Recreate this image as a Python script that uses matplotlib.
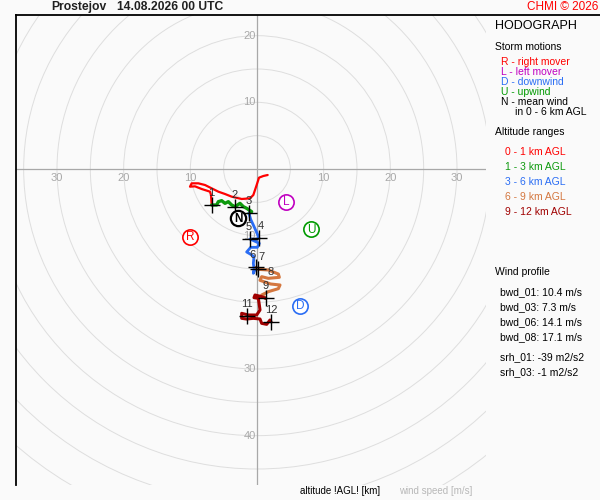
import matplotlib
matplotlib.use('Agg')
import matplotlib.pyplot as plt
from matplotlib.patches import Circle
from matplotlib.lines import Line2D

plt.rcParams['font.family'] = ['Liberation Sans', 'DejaVu Sans']

# ---------------- data ----------------
station = "Prostejov"
timestamp = "14.08.2026 00 UTC"

ring_radii = [5, 10, 15, 20, 25, 30, 35, 40, 45, 50, 55, 60]
x_tick_vals = [-30, -20, -10, 10, 20, 30]
y_tick_vals = [20, 10, -10, -30, -40]

# hodograph segments (u, v in m/s)
u_0_1 = [1.6, 0.95, 0.3, -0.05, -0.55, -1.05, -2.3, -3.8, -4.8, -5.8, -6.8, -7.8, -8.8, -9.8,
         -10.05, -9.3, -8.3, -7.05, -6.9, -6.8]
v_0_1 = [-0.9, -1.05, -1.3, -2.4, -3.9, -4.4, -4.5, -4.15, -3.75, -3.4, -2.9, -2.4, -2.15, -2.15,
         -2.65, -2.6, -3.0, -3.4, -3.9, -5.4]
u_1_3 = [-6.8, -6.05, -5.8, -5.3, -4.8, -4.3, -3.8, -3.3, -2.55, -2.05, -1.55, -0.8, -1.2]
v_1_3 = [-5.4, -5.4, -4.9, -4.75, -5.15, -4.9, -5.4, -5.65, -5.15, -5.65, -5.9, -6.4, -6.65]
u_3_6 = [-1.2, -0.95, -0.55, 0.05, 0.3, -0.3, -1.05, 0.35, 0.05, -0.95, -1.55, -0.95, -0.45,
         -0.55, -0.45, -0.55, -0.15]
v_3_6 = [-6.65, -7.55, -8.4, -9.75, -10.4, -10.55, -10.5, -11.15, -11.75, -11.75, -12.45, -12.8,
         -13.15, -14.15, -14.9, -15.65, -14.75]
u_6_9 = [-0.15, 0.2, 1.7, 3.2, 3.35, 1.7, 0.7, 0.45, 2.05, 3.45, 3.2, 1.7, 0.7, 1.3]
v_6_9 = [-14.75, -15.05, -15.15, -15.75, -16.25, -16.4, -16.15, -16.7, -17.25, -17.4, -17.95,
         -18.4, -18.9, -19.4]
u_9_12 = [1.3, 0.7, -0.3, -0.45, 0.2, 0.35, 0.45, -0.05, -1.3, -2.3, -2.3, -1.55, -0.55, 0.45,
          0.7, 1.45, 1.95, 2.1]
v_9_12 = [-19.4, -19.15, -18.9, -19.3, -19.4, -20.4, -21.15, -21.9, -21.9, -21.65, -22.4, -22.5,
          -22.4, -22.5, -23.15, -23.3, -22.65, -22.9]

# km markers
km_labels = ["1", "2", "3", "4", "5", "6", "7", "8", "9", "11", "12"]
km_u = [-6.8, -3.3, -1.2, 0.3, -1.05, -0.15, 0.2, 2.05, 1.3, -1.55, 2.1]
km_v = [-5.4, -5.65, -6.65, -10.4, -10.5, -14.75, -15.05, -17.25, -19.4, -22.0, -22.9]
km_cross = [True, True, True, True, True, True, True, False, True, True, True]

# storm motions
storm_letters = ["R", "L", "U", "D", "N"]
storm_u = [-10.05, 4.35, 8.1, 6.45, -2.8]
storm_v = [-10.15, -4.9, -9.0, -20.5, -7.4]
storm_colors = ["#ff0000", "#c000c0", "#009a00", "#2a6df4", "#000000"]

seg_colors = ["#ff0000", "#0e9a0e", "#2a6df4", "#d4773f", "#a00000"]
seg_names = ["0 - 1 km AGL", "1 - 3 km AGL", "3 - 6 km AGL", "6 - 9 km AGL", "9 - 12 km AGL"]

profile_lines = ["bwd_01: 10.4 m/s", "bwd_03: 7.3 m/s", "bwd_06: 14.1 m/s", "bwd_08: 17.1 m/s"]
srh_lines = ["srh_01: -39 m2/s2", "srh_03: -1 m2/s2"]

# ---------------- figure ----------------
BG = '#fafafa'
fig = plt.figure(figsize=(6, 5), dpi=100, facecolor=BG)
ax = fig.add_axes([16 / 600, 15 / 500, 470 / 600, 470 / 500])
ax.set_xlim(-36.15, 34.35)
ax.set_ylim(-47.4, 23.1)
ax.set_facecolor(BG)
for s in ax.spines.values():
    s.set_visible(False)
ax.set_xticks([])
ax.set_yticks([])

for r in ring_radii:
    ax.add_patch(Circle((0, 0), r, fill=False, ec='#dedede', lw=0.7, zorder=1))
ax.axhline(0, color='#a8a8a8', lw=0.9, zorder=2)
ax.axvline(0, color='#a8a8a8', lw=0.9, zorder=2)

for val in x_tick_vals:
    ax.annotate(str(abs(val)), (val, 0), xytext=(0, -3), textcoords='offset points',
                ha='center', va='top', color='#a8a8a8', fontsize=8, zorder=3)
for val in y_tick_vals:
    ax.annotate(str(abs(val)), (0, val), xytext=(-1, 0), textcoords='offset points',
                ha='right', va='center', color='#a8a8a8', fontsize=8, zorder=3)

segs = [(u_0_1, v_0_1, 1.6), (u_1_3, v_1_3, 2.4), (u_3_6, v_3_6, 2.0),
        (u_6_9, v_6_9, 2.2), (u_9_12, v_9_12, 2.2)]
for (u, v, lw), c in zip(segs, seg_colors):
    ax.plot(u, v, color=c, lw=lw, solid_joinstyle='round', solid_capstyle='round', zorder=4)

label_dx = {"6": -2.5, "7": 2.5, "5": -1, "4": 1}
for lab, u, v, cr in zip(km_labels, km_u, km_v, km_cross):
    if cr:
        ax.plot(u, v, marker='+', ms=11, mew=1.0, color='black', zorder=6)
    ax.annotate(lab, (u, v), xytext=(label_dx.get(lab, 0), 5), textcoords='offset points',
                ha='center', va='bottom', fontsize=8, color='#303030', zorder=7)

for lt, u, v, c in zip(storm_letters, storm_u, storm_v, storm_colors):
    lw = 1.6 if lt == "N" else 1.2
    ax.plot(u, v, 'o', ms=11, mfc='white', mec=c, mew=lw, zorder=8)
    ax.text(u, v - 0.1, lt, color=c, ha='center', va='center', fontsize=8.5,
            fontweight='bold' if lt == "N" else 'normal', zorder=9)

# frame lines
fig.add_artist(Line2D([16 / 600, 1.0], [485 / 500, 485 / 500], color='black', lw=1.3))
fig.add_artist(Line2D([16 / 600, 16 / 600], [15 / 500, 485 / 500], color='black', lw=1.3))


def T(x, y, s, **kw):
    fig.text(x / 600, 1 - y / 500, s, va='center', **kw)


T(51, 7, station, fontsize=8.7, fontweight='bold', color='#202020')
T(117, 7, timestamp, fontsize=8.7, fontweight='bold', color='#202020')
T(598, 7, "CHMI © 2026", fontsize=8.5, color='#ff0000', ha='right')

T(495, 26, "HODOGRAPH", fontsize=9, color='black')
T(495, 47, "Storm motions", fontsize=7.5, color='black')
storm_desc = [("R - right mover", "#ff0000"), ("L - left mover", "#c000c0"),
              ("D - downwind", "#2a6df4"), ("U - upwind", "#009a00"),
              ("N - mean wind", "#000000")]
for i, (s, c) in enumerate(storm_desc):
    T(501, 62 + 10 * i, s, fontsize=7.5, color=c)
T(515, 112, "in 0 - 6 km AGL", fontsize=7.5, color='black')
T(495, 132, "Altitude ranges", fontsize=7.5, color='black')
for i, (s, c) in enumerate(zip(seg_names, seg_colors)):
    T(505, 152 + 15 * i, s, fontsize=7.5, color=c)

T(495, 272, "Wind profile", fontsize=7.5, color='black')
for i, s in enumerate(profile_lines):
    T(500, 292 + 15 * i, s, fontsize=7.5, color='black')
for i, s in enumerate(srh_lines):
    T(500, 357 + 15 * i, s, fontsize=7.5, color='black')

T(300, 491, "altitude !AGL! [km]", fontsize=7, color='black')
T(399, 491, "wind speed [m/s]", fontsize=7, color='#b8b8b8')

fig.savefig('out.png', dpi=100, facecolor=BG)
